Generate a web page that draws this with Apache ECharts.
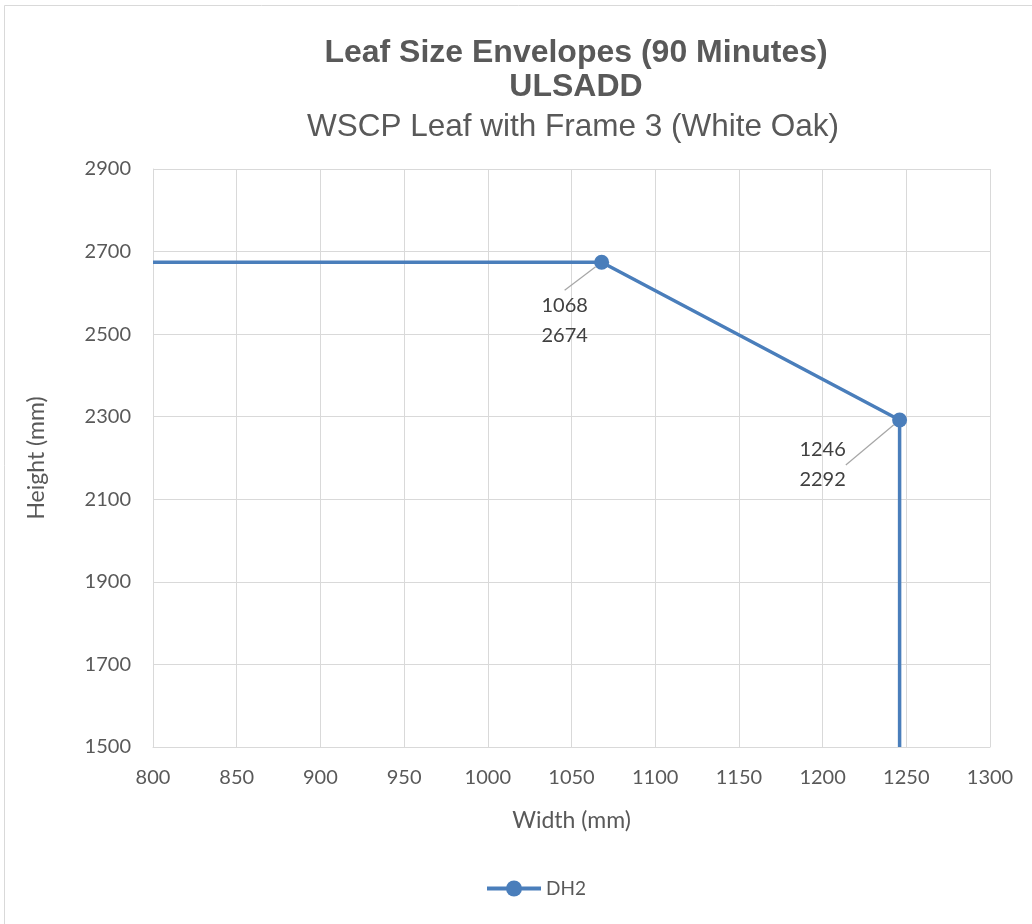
<!DOCTYPE html>
<html><head><meta charset="utf-8">
<script src="https://cdn.jsdelivr.net/npm/echarts@6/dist/echarts.min.js"></script>
<style>html,body{margin:0;padding:0;background:#fff}#c{width:1032px;height:924px}</style>
</head><body><div id="c"></div>
<script>
const seriesName = 'DH2';
const widths = [800, 1068, 1246, 1246];
const heights = [2674, 2674, 2292, 1500];
const markerShown = [false, true, true, false];
const xTicks = {min: 800, max: 1300, interval: 50};
const yTicks = {min: 1500, max: 2900, interval: 200};
const labelOffsets = [null, [-37, 58], [-77, 45], null];

const chart = echarts.init(document.getElementById('c'));
const txt = '#595959';
const font = 'Lato, "Noto Sans", sans-serif';
const data = widths.map((w, i) => ({
  value: [w, heights[i]],
  symbol: markerShown[i] ? 'circle' : 'none',
  label: {show: markerShown[i]}
}));
chart.setOption({
  animation: false,
  backgroundColor: '#fff',
  graphic: [{type: 'rect', shape: {x: 4.5, y: 5.5, width: 1040, height: 940}, style: {fill: 'none', stroke: '#d9d9d9', lineWidth: 1}, silent: true}],
  title: [
    {text: 'Leaf Size Envelopes (90 Minutes)\nULSADD', left: 571, top: 31, textAlign: 'center',
     textStyle: {fontFamily: 'Liberation Sans, Arial, sans-serif', fontWeight: 'bold', fontSize: 32, color: txt, lineHeight: 34}},
    {text: 'WSCP Leaf with Frame 3 (White Oak)', left: 568, top: 106, textAlign: 'center',
     textStyle: {fontFamily: 'Liberation Sans, Arial, sans-serif', fontWeight: 'normal', fontSize: 31.5, color: txt}}
  ],
  grid: {left: 153, right: 42, top: 169, bottom: 177, containLabel: false},
  xAxis: {type: 'value', min: xTicks.min, max: xTicks.max, interval: xTicks.interval,
    name: 'Width (mm)', nameLocation: 'middle', nameGap: 62,
    nameTextStyle: {fontFamily: font, fontSize: 23, color: txt},
    axisLine: {show: true, lineStyle: {color: '#d9d9d9'}}, axisTick: {show: false},
    axisLabel: {fontFamily: font, fontSize: 20, color: txt, margin: 21, formatter: v => String(v)},
    splitLine: {show: true, lineStyle: {color: '#d9d9d9'}}},
  yAxis: {type: 'value', min: yTicks.min, max: yTicks.max, interval: yTicks.interval,
    name: 'Height (mm)', nameLocation: 'middle', nameGap: 105, nameRotate: 90,
    nameTextStyle: {fontFamily: font, fontSize: 23, color: txt},
    axisLine: {show: true, lineStyle: {color: '#d9d9d9'}}, axisTick: {show: false},
    axisLabel: {fontFamily: font, fontSize: 20, color: txt, margin: 22, formatter: v => String(v)},
    splitLine: {show: true, lineStyle: {color: '#d9d9d9'}}},
  legend: {bottom: 21, left: 480, itemWidth: 54, itemHeight: 20, itemGap: 8,
    textStyle: {fontFamily: font, fontSize: 19, color: txt},
    itemStyle: {color: '#4a7ebb', borderWidth: 0},
    lineStyle: {width: 4},
    data: [seriesName]},
  series: [{
    name: seriesName, type: 'line', data: data,
    symbol: 'circle', symbolSize: 15, showSymbol: true,
    lineStyle: {color: '#4a7ebb', width: 3.5},
    itemStyle: {color: '#4a7ebb'},
    label: {formatter: p => p.value[0] + '\n' + p.value[1], fontFamily: font, fontSize: 20, color: '#404040', lineHeight: 30, position: 'inside'},
    labelLine: {show: true, lineStyle: {color: '#a6a6a6', width: 1.2}, length2: 0},
    labelLayout: function (p) {
      const o = labelOffsets[p.dataIndex];
      if (!o) return {};
      return {dx: o[0], dy: o[1]};
    }
  }]
});
</script></body></html>
